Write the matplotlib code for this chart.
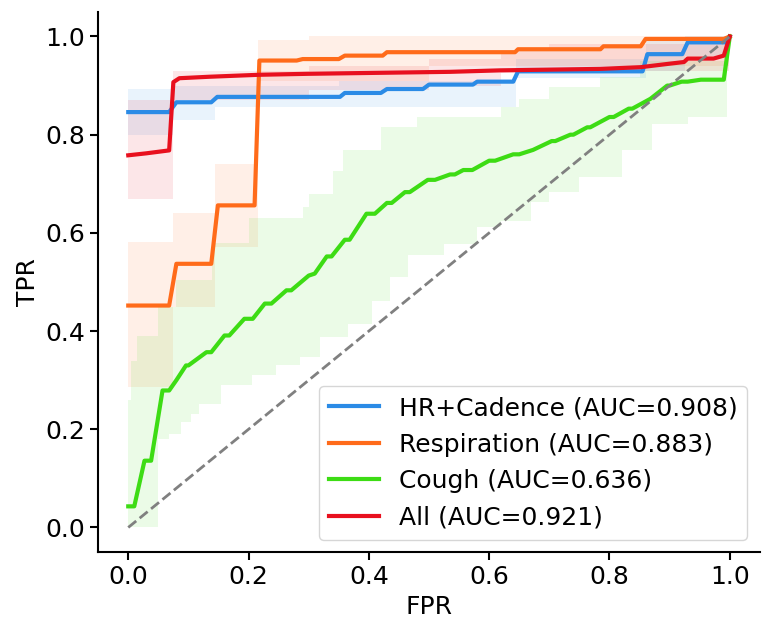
import matplotlib.pyplot as plt
import numpy as np

# mean ROC curves
hr_fpr = [0, 0.068, 0.08, 0.138, 0.148, 0.352, 0.36, 0.42, 0.43, 0.49, 0.50, 0.573,
          0.58, 0.64, 0.648, 0.855, 0.863, 0.921, 0.93, 0.996, 1.0]
hr_tpr = [0.846, 0.846, 0.866, 0.866, 0.877, 0.877, 0.885, 0.885, 0.893, 0.893, 0.902, 0.902,
          0.908, 0.908, 0.929, 0.929, 0.964, 0.964, 0.988, 0.988, 1.0]

resp_fpr = [0, 0.068, 0.08, 0.138, 0.149, 0.21, 0.218, 0.28, 0.29, 0.35, 0.36, 0.423,
            0.43, 0.643, 0.648, 0.785, 0.79, 0.852, 0.86, 0.99, 1.0]
resp_tpr = [0.452, 0.452, 0.537, 0.537, 0.656, 0.656, 0.951, 0.951, 0.954, 0.954, 0.961, 0.961,
            0.968, 0.968, 0.974, 0.974, 0.98, 0.98, 0.995, 0.995, 1.0]

cough_fpr = [0, 0.01, 0.027, 0.038, 0.057, 0.068, 0.08, 0.096, 0.10, 0.13, 0.138, 0.16, 0.168,
             0.193, 0.207, 0.227, 0.238, 0.263, 0.271, 0.30, 0.31, 0.33, 0.338, 0.36, 0.368,
             0.396, 0.41, 0.43, 0.438, 0.46, 0.468, 0.498, 0.51, 0.535, 0.543, 0.557, 0.572,
             0.60, 0.61, 0.64, 0.65, 0.673, 0.704, 0.71, 0.735, 0.74, 0.763, 0.768, 0.80,
             0.807, 0.832, 0.838, 0.868, 0.896, 0.90, 0.92, 0.93, 0.952, 0.99, 1.0]
cough_tpr = [0.043, 0.043, 0.136, 0.136, 0.279, 0.279, 0.30, 0.33, 0.33, 0.357, 0.357, 0.391, 0.391,
             0.425, 0.425, 0.456, 0.456, 0.483, 0.483, 0.513, 0.517, 0.552, 0.552, 0.586, 0.586,
             0.639, 0.639, 0.661, 0.661, 0.683, 0.683, 0.708, 0.708, 0.719, 0.719, 0.728, 0.728,
             0.747, 0.747, 0.76, 0.76, 0.769, 0.787, 0.787, 0.80, 0.80, 0.815, 0.815, 0.836,
             0.836, 0.853, 0.853, 0.873, 0.90, 0.90, 0.908, 0.908, 0.912, 0.912, 1.0]

all_fpr = [0, 0.03, 0.068, 0.075, 0.085, 0.135, 0.218, 0.30, 0.535, 0.618, 0.785, 0.852,
           0.896, 0.924, 0.93, 0.973, 0.99, 1.0]
all_tpr = [0.758, 0.762, 0.768, 0.907, 0.915, 0.918, 0.922, 0.924, 0.928, 0.931, 0.934, 0.9375,
           0.944, 0.948, 0.955, 0.955, 0.961, 1.0]

# std bands, stepwise (value holds until next x)
hr_lo_x = [0, 0.075, 0.145, 0.645, 0.86, 0.925, 0.998]
hr_lo = [0.80, 0.83, 0.856, 0.915, 0.93, 0.96, 1.0]
hr_hi_x = [0, 0.075, 0.35, 0.645, 0.86, 0.925, 0.998]
hr_hi = [0.893, 0.90, 0.91, 0.955, 0.99, 1.0, 1.0]

resp_lo_x = [0, 0.075, 0.145, 0.215, 0.5, 0.998]
resp_lo = [0.286, 0.449, 0.571, 0.91, 0.94, 1.0]
resp_hi_x = [0, 0.075, 0.145, 0.215, 0.3, 0.998]
resp_hi = [0.581, 0.64, 0.741, 0.992, 1.0, 1.0]

cough_lo_x = [0, 0.05, 0.068, 0.088, 0.105, 0.118, 0.155, 0.205, 0.245, 0.285, 0.318, 0.365,
              0.405, 0.435, 0.465, 0.525, 0.58, 0.62, 0.67, 0.70, 0.75, 0.82, 0.87, 0.93, 0.995]
cough_lo = [0.0, 0.18, 0.19, 0.214, 0.232, 0.252, 0.29, 0.31, 0.33, 0.347, 0.388, 0.415,
            0.462, 0.51, 0.554, 0.578, 0.612, 0.625, 0.663, 0.683, 0.713, 0.768, 0.822, 0.836, 1.0]
cough_hi_x = [0, 0.005, 0.015, 0.05, 0.08, 0.14, 0.2, 0.29, 0.3, 0.34, 0.357, 0.42, 0.48,
              0.62, 0.65, 0.70, 0.785, 0.85, 0.995]
cough_hi = [0.26, 0.34, 0.39, 0.45, 0.503, 0.58, 0.63, 0.652, 0.68, 0.727, 0.768, 0.815, 0.836,
            0.856, 0.873, 0.897, 0.917, 0.95, 1.0]

all_lo_x = [0, 0.075, 0.3, 0.5, 0.62, 0.7, 0.998]
all_lo = [0.67, 0.87, 0.89, 0.90, 0.925, 0.93, 1.0]
all_hi_x = [0, 0.075, 0.3, 0.5, 0.62, 0.7, 0.998]
all_hi = [0.87, 0.93, 0.94, 0.955, 0.97, 0.985, 1.0]

labels = ['HR+Cadence (AUC=0.908)', 'Respiration (AUC=0.883)',
          'Cough (AUC=0.636)', 'All (AUC=0.921)']
colors = ['#2b8be6', '#ff6b1a', '#3ddc14', '#e8101e']


def steps(xs, ys, end=1.0):
    # turn step points into polygon vertices
    px, py = [], []
    for i in range(len(xs)):
        x1 = xs[i + 1] if i + 1 < len(xs) else end
        px += [xs[i], x1]
        py += [ys[i], ys[i]]
    return px, py


fig = plt.figure(figsize=(7.73, 6.28), dpi=100)
ax = fig.add_axes([0.127, 0.121, 0.856, 0.86])

curves = [(hr_fpr, hr_tpr, hr_lo_x, hr_lo, hr_hi_x, hr_hi),
          (resp_fpr, resp_tpr, resp_lo_x, resp_lo, resp_hi_x, resp_hi),
          (cough_fpr, cough_tpr, cough_lo_x, cough_lo, cough_hi_x, cough_hi),
          (all_fpr, all_tpr, all_lo_x, all_lo, all_hi_x, all_hi)]

for (fx, ty, lx, lo, hx, hi), lab, c in zip(curves, labels, colors):
    ux, uy = steps(hx, hi)
    bx, by = steps(lx, lo)
    ax.fill(ux + bx[::-1], uy + by[::-1], color=c, alpha=0.1, lw=0)
    ax.plot(fx, ty, color=c, lw=3, label=lab)

ax.plot([0, 1], [0, 1], '--', color='grey', lw=2)

ax.set_xlim(-0.05, 1.05)
ax.set_ylim(-0.05, 1.05)
ax.set_xticks([0, 0.2, 0.4, 0.6, 0.8, 1.0])
ax.set_yticks([0, 0.2, 0.4, 0.6, 0.8, 1.0])
ax.tick_params(labelsize=18, width=1.5, length=6)
ax.set_xlabel('FPR', fontsize=18)
ax.set_ylabel('TPR', fontsize=18)
for s in ['top', 'right']:
    ax.spines[s].set_visible(False)
for s in ['left', 'bottom']:
    ax.spines[s].set_linewidth(1.5)
ax.legend(loc='lower right', fontsize=18)

fig.savefig('out.png')
